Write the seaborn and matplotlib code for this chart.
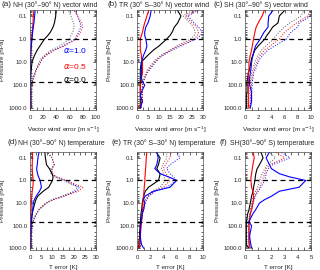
import matplotlib
matplotlib.use("Agg")
import matplotlib.pyplot as plt
import seaborn as sns
import numpy as np

# pressure levels [hPa]
plev = [0.05, 0.1, 0.2, 0.3, 0.5, 0.7, 1, 2, 3, 5, 7, 10, 20, 30, 50, 70, 100, 200, 300, 500, 700, 1000]

# (a) NH vector wind
a_blue = [8, 7, 6, 5, 4, 3.5, 3, 2, 1.5, 1, 0.8, 0.5, 0.5, 0.5, 0.5, 0.5, 0.5, 0.5, 0.5, 0.5, 0.5, 0.5]
a_red = [6, 5, 4.5, 4, 3.5, 3, 2.5, 2, 1.5, 1, 0.8, 0.6, 0.5, 0.5, 0.5, 0.5, 0.5, 0.5, 0.5, 0.5, 0.5, 0.5]
a_black = [39, 39, 37, 35, 31, 27, 22, 15, 11, 7, 5, 3, 2, 1.5, 1, 1, 1, 1, 1, 1, 1, 1]
a_blue_d = [68, 72, 76, 77, 74, 71, 68, 50, 36, 24, 19, 16, 10, 8, 5, 4, 3, 2.5, 2.5, 2, 2, 2]
a_red_d = [65, 72, 78, 80, 77, 73, 70, 52, 38, 25, 19, 16, 10, 8, 5, 4, 3, 2.5, 2.5, 2, 2, 2]
a_black_d = [57, 62, 66, 67, 65, 62, 60, 45, 32, 22, 17, 14, 9, 7, 4.5, 3.5, 2.5, 2, 2, 2, 2, 2]

# (b) TR vector wind
b_blue = [6.5, 6, 5, 4, 3.5, 3.5, 4, 4.5, 4, 3, 2.5, 2, 2, 2, 2, 2.5, 3.5, 2, 1.5, 2.5, 2, 1.5]
b_red = [5.5, 4.5, 3.5, 3, 2.5, 2, 1.5, 1.5, 1.5, 2, 2, 2.5, 2.5, 2.5, 2, 2, 1.5, 1.5, 1.5, 2.5, 1.5, 1]
b_black = [18, 20, 18.5, 17, 16, 15, 13.5, 10, 7.5, 5, 3.5, 2, 1.5, 1.5, 1.5, 1.5, 1.5, 1.5, 1.5, 1.5, 1.5, 1.5]
b_blue_d = [29, 23, 26, 28, 29.5, 29, 27, 20, 16, 12, 10, 8.5, 6, 4.5, 3.5, 3, 2.5, 2.5, 2.5, 2.5, 2, 2]
b_red_d = [28, 22, 25, 27, 28, 27.5, 26, 19, 15.5, 11.5, 9.5, 8, 5.5, 4.5, 3.5, 3, 2.5, 2.5, 2.5, 2.5, 2, 2]
b_black_d = [26, 21, 24, 25.5, 26.5, 26, 24.5, 18, 15, 11, 9, 7.5, 5, 4, 3, 2.5, 2.5, 2, 2, 2, 2, 2]

# (c) SH vector wind
c_blue = [4.4, 3.6, 3.5, 3.5, 2.9, 2.6, 2.3, 1.6, 1.4, 1.2, 1.1, 1.0, 0.9, 0.8, 0.7, 0.7, 0.7, 1.0, 1.0, 1.0, 0.9, 0.8]
c_red = [3, 2.6, 2, 1.7, 1.5, 1.4, 1.3, 1.1, 1, 0.8, 0.7, 0.6, 0.6, 0.5, 0.5, 0.5, 0.5, 0.5, 0.5, 0.5, 0.5, 0.6]
c_black = [6.2, 5.2, 5, 4.2, 3.7, 3.3, 3, 2, 1.5, 1.2, 1, 0.9, 0.7, 0.5, 0.4, 0.3, 0.3, 0.3, 0.2, 0.2, 0.2, 0.2]
c_blue_d = [10, 10, 8.2, 8, 7, 6.6, 6.3, 4.5, 3.5, 2.7, 2.3, 2, 1.6, 1.3, 1.2, 1.1, 1.1, 1, 0.9, 0.9, 0.8, 0.8]
c_red_d = [10, 9.5, 7.8, 7, 6, 5.6, 5.2, 3.8, 3, 2.3, 2, 1.8, 1.4, 1.2, 1.1, 1, 1, 0.9, 0.8, 0.8, 0.7, 0.7]
c_black_d = [9, 8.5, 6.8, 6, 5.2, 4.7, 4.3, 3.2, 2.5, 2, 1.7, 1.5, 1.2, 1, 0.9, 0.8, 0.8, 0.7, 0.6, 0.6, 0.5, 0.5]

# (d) NH temperature
d_blue = [4.2, 3.6, 3.3, 3, 3.4, 3.9, 4.6, 5.2, 4.3, 2.8, 2, 1.5, 1.2, 1, 0.7, 0.6, 0.5, 0.4, 0.3, 0.3, 0.3, 0.3]
d_red = [1.2, 1.1, 1, 1, 1.1, 1.3, 1.5, 1.3, 1, 0.8, 0.7, 0.6, 0.5, 0.4, 0.4, 0.3, 0.3, 0.3, 0.3, 0.3, 0.3, 0.3]
d_black = [6.7, 7, 7.5, 8.8, 10, 10.5, 10.2, 8.5, 6, 3.5, 2.7, 2.2, 1.4, 1, 0.7, 0.5, 0.4, 0.3, 0.3, 0.3, 0.3, 0.3]
d_blue_d = [7.5, 10, 11, 10, 10, 12, 16, 22.5, 21, 15, 10.5, 7.5, 4, 3, 1.8, 1.3, 1, 0.7, 0.6, 0.5, 0.5, 0.5]
d_red_d = [7.5, 10, 11, 10, 10, 12, 16.5, 24, 22, 15.5, 11, 7.5, 4, 3, 1.8, 1.3, 1, 0.7, 0.6, 0.5, 0.5, 0.5]
d_black_d = [7.5, 10, 11, 9.5, 9.5, 11.5, 15.5, 21.5, 20, 14.5, 10, 7, 3.8, 2.8, 1.7, 1.2, 1, 0.7, 0.6, 0.5, 0.5, 0.5]

# (e) TR temperature
e_blue = [3, 3.2, 3, 2.7, 3.5, 4.8, 6, 5, 2.5, 1.2, 1, 1.2, 1, 0.8, 0.7, 0.6, 0.5, 0.5, 0.5, 0.6, 0.7, 1]
e_red = [1.5, 1.4, 1.35, 1.3, 1.25, 1.2, 1.2, 1.1, 1.05, 1, 0.95, 0.9, 0.85, 0.8, 0.75, 0.7, 0.65, 0.55, 0.5, 0.45, 0.4, 0.35]
e_black = [2.8, 3.5, 3.25, 3, 3.5, 3.4, 3.25, 1.75, 1.25, 1, 0.9, 0.8, 0.7, 0.6, 0.55, 0.5, 0.5, 0.4, 0.4, 0.3, 0.3, 0.3]
e_blue_d = [6, 6.5, 5, 4.5, 5, 5.5, 6, 4.5, 2.8, 1.8, 1.5, 1.2, 1, 0.8, 0.6, 0.5, 0.5, 0.5, 0.5, 0.5, 0.5, 0.5]
e_red_d = [5.2, 5, 4.3, 4, 4.4, 4.7, 5, 4, 2.6, 1.7, 1.4, 1.2, 0.9, 0.8, 0.6, 0.5, 0.5, 0.5, 0.5, 0.5, 0.5, 0.5]
e_black_d = [4.5, 4.5, 3.9, 3.7, 4, 4.1, 4.3, 3.5, 2.3, 1.6, 1.3, 1.1, 0.9, 0.7, 0.6, 0.5, 0.5, 0.5, 0.5, 0.5, 0.5, 0.5]

# (f) SH temperature
f_blue = [1.9, 1.6, 1.85, 2.0, 2.6, 3.4, 4.6, 4.1, 2.6, 2, 1.5, 1.1, 0.8, 0.6, 0.4, 0.3, 0.5, 0.4, 0.35, 0.4, 0.45, 0.5]
f_red = [0.6, 0.7, 0.6, 0.55, 0.5, 0.45, 0.45, 0.5, 0.6, 0.65, 0.65, 0.6, 0.5, 0.4, 0.35, 0.3, 0.3, 0.3, 0.3, 0.3, 0.35, 0.4]
f_black = [1.17, 1.37, 1.1, 0.92, 0.82, 0.78, 0.75, 0.65, 0.6, 0.5, 0.45, 0.4, 0.3, 0.2, 0.15, 0.1, 0.1, 0.1, 0.1, 0.1, 0.1, 0.3]
f_blue_d = [2.6, 3.4, 2.1, 1.75, 1.6, 1.55, 1.5, 1.2, 1, 0.8, 0.7, 0.6, 0.5, 0.4, 0.35, 0.3, 0.3, 0.3, 0.3, 0.3, 0.3, 0.3]
f_red_d = [2.2, 3.0, 1.9, 1.6, 1.5, 1.4, 1.3, 1.1, 0.9, 0.75, 0.65, 0.55, 0.45, 0.4, 0.35, 0.3, 0.3, 0.3, 0.3, 0.3, 0.3, 0.3]
f_black_d = [1.8, 2.3, 1.7, 1.5, 1.3, 1.2, 1.1, 0.95, 0.8, 0.65, 0.55, 0.5, 0.4, 0.35, 0.3, 0.3, 0.3, 0.3, 0.3, 0.3, 0.3, 0.3]

tags = ["(a)", "(b)", "(c)", "(d)", "(e)", "(f)"]
titles = ["NH (30°–90° N) vector wind", "TR (30° S–30° N) vector wind",
          "SH (30°–90° S) vector wind", "NH (30°–90° N) temperature",
          "TR (30° S–30° N) temperature", "SH(30°–90° S) temperature"]
xmax = [100, 30, 10, 30, 10, 5]
xticks = [[0, 20, 40, 60, 80, 100], [0, 5, 10, 15, 20, 25, 30], [0, 2, 4, 6, 8, 10],
          [0, 5, 10, 15, 20, 25, 30], [0, 2, 4, 6, 8, 10], [0, 1, 2, 3, 4, 5]]
xlabels = ["Vector wind error [m s$^{-1}$]"] * 3 + ["T error [K]"] * 3
panels = [
    (a_blue, a_red, a_black, a_blue_d, a_red_d, a_black_d),
    (b_blue, b_red, b_black, b_blue_d, b_red_d, b_black_d),
    (c_blue, c_red, c_black, c_blue_d, c_red_d, c_black_d),
    (d_blue, d_red, d_black, d_blue_d, d_red_d, d_black_d),
    (e_blue, e_red, e_black, e_blue_d, e_red_d, e_black_d),
    (f_blue, f_red, f_black, f_blue_d, f_red_d, f_black_d),
]
dashed_levels = [1.0, 70.0]

sns.set_style("ticks")
plt.rcParams["font.family"] = ["Liberation Sans", "DejaVu Sans"]
plt.rcParams["mathtext.fontset"] = "dejavusans"

fig = plt.figure(figsize=(3.2, 2.7), dpi=100)
lefts = [30, 137, 245]
axes = []
for i in range(6):
    row, col = divmod(i, 3)
    top_px = 10 if row == 0 else 152
    bot_px = 110 if row == 0 else 250
    ax = fig.add_axes([lefts[col] / 320, 1 - bot_px / 270, 66 / 320, (bot_px - top_px) / 270])
    axes.append(ax)

styles = [("blue", "-"), ("red", "-"), ("black", "-"),
          ("blue", ":"), ("red", ":"), ("0.35", ":")]

for i, ax in enumerate(axes):
    curves = panels[i]
    # dotted first, solid on top
    for j in [3, 4, 5, 2, 1, 0]:
        col, ls = styles[j]
        sns.lineplot(x=curves[j], y=plev, ax=ax, color=col, linestyle=ls,
                     lw=0.8 if ls == "-" else 0.7, orient="y", sort=False,
                     estimator=None, legend=False)
    for lev in dashed_levels:
        ax.axhline(lev, color="black", ls=(0, (4, 3)), lw=0.9)
    ax.set_yscale("log")
    ax.set_ylim(1200, 0.055)
    ax.set_xlim(0, xmax[i])
    ax.set_yticks([0.1, 1, 10, 100, 1000])
    ax.set_yticklabels(["0.1", "1.0", "10.0", "100.0", "1000.0"])
    ax.set_xticks(xticks[i])
    ax.tick_params(axis="both", which="both", direction="in", top=True, right=True,
                   labelsize=4.3, length=2, width=0.5, pad=2)
    ax.tick_params(axis="x", pad=3.5)
    ax.tick_params(axis="y", which="minor", length=1.2)
    ax.xaxis.set_minor_locator(matplotlib.ticker.AutoMinorLocator(2))
    for s in ax.spines.values():
        s.set_linewidth(0.5)
        s.set_color("0.3")
    ax.set_xlabel(xlabels[i], fontsize=4.6, labelpad=3.5)
    ax.set_ylabel("Pressure [hPa]", fontsize=4.6, labelpad=3)

# legend text in panel (a)
axes[0].text(50, 3.3, r"$\alpha$=1.0", color="blue", fontsize=6, va="center")
axes[0].text(50, 15, r"$\alpha$=0.5", color="red", fontsize=6, va="center")
axes[0].text(50, 55, r"$\alpha$=0.0", color="black", fontsize=6, va="center")

tag_x = [2, 108, 213, 7, 112, 219]
for i, t in enumerate(titles):
    y = 5 if i < 3 else 143
    fig.text(tag_x[i] / 320, 1 - y / 270, tags[i], fontsize=5.8, ha="left", va="center")
    fig.text((tag_x[i] + 11) / 320, 1 - y / 270, t, fontsize=4.95, ha="left", va="center")

fig.savefig("out.png", dpi=100)
